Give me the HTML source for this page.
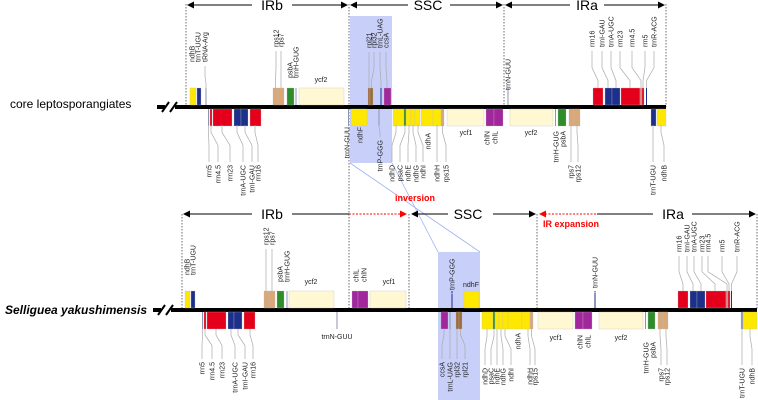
<!DOCTYPE html>
<html><head><meta charset="utf-8">
<style>
html,body{margin:0;padding:0;background:#fff;}
svg{display:block;font-family:"Liberation Sans",sans-serif;}
</style></head>
<body>
<svg id="chart" width="758" height="400" viewBox="0 0 758 400" xmlns="http://www.w3.org/2000/svg">
<g id="bg"></g>
<g id="marks"></g>
<g id="labels"></g>
</svg>
<script>
const NS="http://www.w3.org/2000/svg";
const COL={Y:"#ffe800",N:"#1c2f8a",G:"#8b95ad",R:"#e4001b",T:"#d9a878",Gr:"#2f8c2a",C:"#fff8d2",P:"#a3279c",B:"#9b6a38",K:"#d88080"};
const lineY={T:107,B:310};
// genes: [track, side, start, end, color]
const topGenes=[
["T","a",190,196,"Y"],["T","a",197,201,"N"],["T","a",205.5,206.5,"G"],["T","a",273,278,"T"],["T","a",278,284,"T"],["T","a",287,294,"Gr"],["T","a",295.5,296.5,"G"],["T","a",299,344,"C"],["T","a",368,370,"B"],["T","a",370,373,"B"],["T","a",380.5,381.5,"N"],["T","a",384,391,"P"],["T","a",507.5,508.5,"G"],["T","a",593,603,"R"],["T","a",605,612,"N"],["T","a",612,620,"N"],["T","a",621,640,"R"],["T","a",640,642,"K"],["T","a",642,644,"R"],["T","a",646,647,"N"],
["T","b",208,209,"G"],["T","b",210,212,"R"],["T","b",213,232,"R"],["T","b",234,241,"N"],["T","b",241,248,"N"],["T","b",250,261,"R"],["T","b",348,349,"G"],["T","b",351,367,"Y"],["T","b",378.5,379.5,"G"],["T","b",393,404,"Y"],["T","b",404,406,"Gr"],["T","b",406,411,"Y"],["T","b",411,415,"Y"],["T","b",415,420,"Y"],["T","b",421,433,"Y"],["T","b",433,441,"Y"],["T","b",441,444,"T"],["T","b",447,484,"C"],["T","b",486,494,"P"],["T","b",494,503,"P"],["T","b",510,553,"C"],["T","b",555,556,"G"],["T","b",558,566,"Gr"],["T","b",569,574,"T"],["T","b",574,580,"T"],["T","b",651,656,"N"],["T","b",657,666,"Y"]
];
const bottomGenes=[
["B","a",185,190,"Y"],["B","a",191,195,"N"],["B","a",264,269,"T"],["B","a",269,275,"T"],["B","a",277,284,"Gr"],["B","a",286.5,287.5,"G"],["B","a",289,334,"C"],["B","a",352,358,"P"],["B","a",358,368,"P"],["B","a",370,406,"C"],["B","a",451.5,452.5,"N"],["B","a",464,479,"Y"],["B","a",594.5,595.5,"N"],["B","a",678,688,"R"],["B","a",690,697,"N"],["B","a",697,705,"N"],["B","a",706,726,"R"],["B","a",726,728,"K"],["B","a",728,730,"R"],["B","a",731,732,"N"],
["B","b",202,203,"G"],["B","b",204,206,"R"],["B","b",207,226,"R"],["B","b",228,234,"N"],["B","b",234,242,"N"],["B","b",244,255,"R"],["B","b",336.5,337.5,"G"],["B","b",441,448,"P"],["B","b",449.5,450.5,"G"],["B","b",456,459,"B"],["B","b",459,462,"B"],["B","b",482,493,"Y"],["B","b",493,495,"Gr"],["B","b",495,499,"Y"],["B","b",499,503,"Y"],["B","b",503,508,"Y"],["B","b",508,522,"Y"],["B","b",522,530,"Y"],["B","b",530,533,"T"],["B","b",538,573,"C"],["B","b",575,583,"P"],["B","b",583,592,"P"],["B","b",599,643,"C"],["B","b",645,646,"G"],["B","b",648,655,"Gr"],["B","b",658,663,"T"],["B","b",663,668,"T"],["B","b",741,743,"G"],["B","b",743,757,"Y"]
];
// labels: [text, labelX, labelY, mode(u/d/h), geneX, geneEdgeY]
const topLabels=[
["ndhB",192,62,"u"],["trnT-UGU",198,62,"u"],["tRNA-Arg",205,62,"u",206,88],
["rps12",276,47,"u",275.5,88],["rps7",281,47,"u",281,88],["psbA",290,78,"u"],["trnH-GUG",296,78,"u"],
["ycf2",321,82,"h"],
["rpl21",369,48,"u",369,88],["rpl32",374,48,"u",371.5,88],["trnL-UAG",380,48,"u",381,88],["ccsA",386,48,"u",387,88],
["trnN-GUU",508,90,"u"],
["rrn16",592,47,"u",598,88],["trnI-GAU",602,47,"u",608,88],["trnA-UGC",611,47,"u",616,88],["rrn23",620,47,"u",630,88],["rrn4.5",632,47,"u",641,88],["rrn5",645,47,"u",643,88],["trnR-ACG",654,47,"u",646.5,88],
["rrn5",209,165,"d",208.5,125],["rrn4.5",218,165,"d",211,125],["rrn23",230,165,"d",222,125],["trnA-UGC",243,165,"d",237,125],["trnI-GAU",252,165,"d",245,125],["rrn16",258,165,"d",255,125],
["trnN-GUU",347,127,"d"],["ndhF",360,127,"d"],["trnP-GGG",380,140,"d",379,125],
["ndhD",392,165,"d",396,125],["psaC",400,165,"d",405,125],["ndhE",408,165,"d",409,125],["ndhG",416,165,"d",413,125],["ndhI",423,165,"d",418,125],["ndhA",428,133,"d"],["ndhH",437,165,"d",437,125],["rps15",446,165,"d",442.5,125],
["ycf1",466,135,"h"],["chlN",487,131,"d"],["chlL",495,131,"d"],["ycf2",531,135,"h"],["trnH-GUG",556,131,"d"],["psbA",563,131,"d"],
["rps7",571,165,"d",571,125],["rps12",578,165,"d",577,125],["trnT-UGU",653,165,"d",653,125],["ndhB",664,165,"d",661,125]
];
const bottomLabels=[
["ndhB",187,275,"u"],["trnT-UGU",193,275,"u"],["rps12",266,245,"u",266,291],["rps7",272,245,"u",272,291],["psbA",280,282,"u"],["trnH-GUG",287,282,"u"],
["ycf2",311,284,"h"],["chlL",356,282,"u"],["chlN",364,282,"u"],["ycf1",389,284,"h"],["trnP-GGG",452,290,"u",452,293],["ndhF",471,287,"h"],["trnN-GUU",595,288,"u",595,293],
["rrn16",679,252,"u",683,291],["trnI-GAU",687,252,"u",693,291],["trnA-UGC",694,252,"u",701,291],["rrn23",702,252,"u",715,291],["rrn4.5",708,252,"u",727,291],["rrn5",722,252,"u",729,291],["trnR-ACG",737,252,"u",731.5,291],
["rrn5",202,362,"d",202.5,329],["rrn4.5",212,362,"d",205,329],["rrn23",222,362,"d",216,329],["trnA-UGC",235,362,"d",231,329],["trnI-GAU",245,362,"d",238,329],["rrn16",253,362,"d",250,329],
["trnN-GUU",337,339,"h"],
["ccsA",442,362,"d",444,329],["trnL-UAG",450,362,"d",450,329],["rpl32",457,362,"d",457,329],["rpl21",465,362,"d",460.5,329],
["ndhD",485,368,"d",487,329],["psaC",491,368,"d",494,329],["ndhE",497,368,"d",497,329],["ndhG",503,368,"d",501,329],["ndhI",511,368,"d",505,329],["ndhA",518,333,"d"],["ndhH",530,368,"d",528,329],["rps15",535,368,"d",531.5,329],
["ycf1",556,340,"h"],["chlN",580,335,"d"],["chlL",588,335,"d"],["ycf2",621,340,"h"],["trnH-GUG",646,342,"d"],["psbA",653,342,"d"],
["rps7",661,368,"d",660,329],["rps12",667,368,"d",666,329],["trnT-UGU",742,368,"d",742,329],["ndhB",752,368,"d",750,329]
];
function el(tag,attrs,parent){const e=document.createElementNS(NS,tag);for(const k in attrs)e.setAttribute(k,attrs[k]);if(parent)parent.appendChild(e);return e;}
const bg=document.getElementById("bg"),marks=document.getElementById("marks"),labs=document.getElementById("labels");

let s1=el("rect",{x:350,y:16,width:42,height:147,fill:"#c8d0fa"},bg);


let s2=el("rect",{x:438,y:252,width:42,height:148,fill:"#c8d0fa"},bg);


let c1=el("line",{x1:350,y1:163,x2:480,y2:252,stroke:"#9fb0f0","stroke-width":0.8},bg);


let c2=el("line",{x1:392,y1:163,x2:438,y2:252,stroke:"#9fb0f0","stroke-width":0.8},bg);



const vlines=[[186,4,107],[349,4,310],[504,4,107],[666,4,107],[182,214,310],[409,214,310],[537,214,310],[757,214,310]];
vlines.forEach(v=>{const l=el("line",{x1:v[0],y1:v[1],x2:v[0],y2:v[2],stroke:"#444","stroke-width":0.8,"stroke-dasharray":"1.5,1.5"},bg);

});

function arrowHead(x,y,dir,color){const p=dir>0?`${x},${y} ${x-7},${y-3.5} ${x-7},${y+3.5}`:`${x},${y} ${x+7},${y-3.5} ${x+7},${y+3.5}`;
const a=el("polygon",{points:p,fill:color},bg);

}
function seg(x1,x2,y,color,dash){const l=el("line",{x1:x1,y1:y,x2:x2,y2:y,stroke:color,"stroke-width":1},bg);if(dash)l.setAttribute("stroke-dasharray","2,1.5");

}
function txt(t,x,y,size,opt,parent,name){const e=el("text",{x:x,y:y,"font-size":size,fill:opt.fill||"#000","text-anchor":opt.anchor||"middle"},parent||labs);
if(opt.weight)e.setAttribute("font-weight",opt.weight);if(opt.style)e.setAttribute("font-style",opt.style);e.textContent=t;


return e;}
seg(188,252,5,"#000");arrowHead(187,5,-1,"#000");txt("IRb",272,10,14,{},bg,"irb-label-top");seg(292,347,5,"#000");arrowHead(348,5,1,"#000");
seg(351,408,5,"#000");arrowHead(350,5,-1,"#000");txt("SSC",428,10,14,{},bg,"ssc-label-top");seg(450,502,5,"#000");arrowHead(503,5,1,"#000");
seg(506,570,5,"#000");arrowHead(505,5,-1,"#000");txt("IRa",587,10,14,{},bg,"ira-label-top");seg(604,664,5,"#000");arrowHead(665,5,1,"#000");
seg(184,252,214,"#000");arrowHead(183,214,-1,"#000");txt("IRb",272,219,14,{},bg,"irb-label-bottom");seg(292,349,214,"#000");
seg(349,402,214,"#f00",true);arrowHead(407,214,1,"#f00");arrowHead(411,214,-1,"#000");seg(416,448,214,"#000");
txt("SSC",468,219,14,{},bg,"ssc-label-bottom");seg(493,530,214,"#000");arrowHead(536,214,1,"#000");
arrowHead(539,214,-1,"#f00");seg(545,597,214,"#f00",true);seg(597,653,214,"#000");txt("IRa",673,219,14,{},bg,"ira-label-bottom");seg(692,750,214,"#000");arrowHead(756,214,1,"#000");
txt("inversion",415,201,9,{fill:"#f00",weight:"bold"},bg,"inversion-annotation");
txt("IR expansion",543,227,9,{fill:"#f00",weight:"bold",anchor:"start"},bg,"ir-expansion-annotation");

txt("core leptosporangiates",10,108,12,{anchor:"start"},bg,"species-label-core-leptosporangiates");
txt("Selliguea yakushimensis",5,314,12,{anchor:"start",weight:"bold",style:"italic"},bg,"species-label-selliguea");

function genomeLine(y,x0,x1,name){
const l1=el("rect",{x:x0,y:y-2,width:8,height:4,fill:"#000"},marks);


const l2=el("rect",{x:x0+18,y:y-2,width:x1-x0-18,height:4,fill:"#000"},marks);


[[x0+5,x0+12],[x0+13,x0+20]].forEach(s=>{const b=el("line",{x1:s[0],y1:y+5,x2:s[1],y2:y-5,stroke:"#000","stroke-width":2},marks);

});}
genomeLine(107,157,666,"core-genome-line");
genomeLine(310,153,757,"selliguea-genome-line");

function drawGenes(arr){arr.forEach(g=>{const ly=lineY[g[0]];let y,h;
if(g[1]==="a"){y=ly-19;h=17;}else{y=ly+2;h=17;}
const thin=(g[3]-g[2])<=1.5;
const r=el("rect",{x:g[2],y:y,width:g[3]-g[2],height:h,fill:COL[g[4]],stroke:thin?"none":"#bbb","stroke-width":0.3},marks);

});}
drawGenes(topGenes);drawGenes(bottomGenes);

function drawLabels(arr){arr.forEach(L=>{const [t,x,y,m,gx,gy]=L;
if(m==="h"){txt(t,x,y,7,{fill:"#222"},labs,"gene-label");return;}
const e=txt(t,x+2.5,y,7,{fill:"#222",anchor:m==="u"?"start":"end"},labs,"gene-label");
e.setAttribute("transform",`rotate(-90 ${x+2.5} ${y})`);
if(gx!==undefined){
let pts;if(m==="u"){const s=y+4;pts=`${x},${s} ${x},${s+(gy-s)*0.45} ${gx},${s+(gy-s)*0.8} ${gx},${gy}`;}
else{const s=y-3;pts=`${x},${s} ${x},${s-(s-gy)*0.45} ${gx},${s-(s-gy)*0.8} ${gx},${gy}`;}
const p=el("polyline",{points:pts,fill:"none",stroke:"#aaa","stroke-width":0.7},labs);

}});}
drawLabels(topLabels);drawLabels(bottomLabels);
</script>
</body></html>
